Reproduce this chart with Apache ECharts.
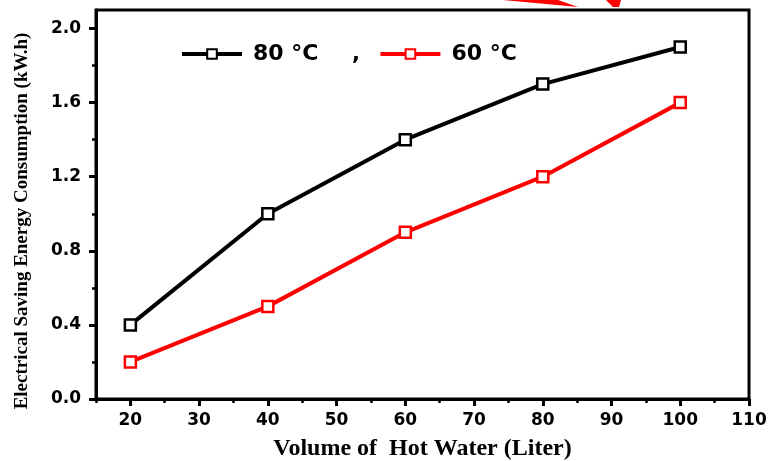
<!DOCTYPE html>
<html>
<head>
<meta charset="utf-8">
<script src="https://cdn.jsdelivr.net/npm/echarts@6/dist/echarts.min.js"></script>
<style>html,body{margin:0;padding:0;background:#fff;}#c{width:769px;height:461px;}</style>
</head>
<body>
<div id="c"></div>
<script>
const volumes = [20, 40, 60, 80, 100];
const series80 = [0.4, 1.0, 1.4, 1.7, 1.9];
const series60 = [0.2, 0.5, 0.9, 1.2, 1.6];
const xMajorTicks = [20, 30, 40, 50, 60, 70, 80, 90, 100, 110];
const xMinorTicks = [15, 25, 35, 45, 55, 65, 75, 85, 95, 105];
const yMajorTicks = [0, 0.4, 0.8, 1.2, 1.6, 2.0];
const yMinorTicks = [0.2, 0.6, 1.0, 1.4, 1.8];
const seriesNames = ['80 \u00B0C', '60 \u00B0C'];
const xTitle = 'Volume of  Hot Water (Liter)';
const yTitle = 'Electrical Saving Energy Consumption (kW.h)';

const chart = echarts.init(document.getElementById('c'));
const labelFont = {fontFamily: 'DejaVu Sans', fontWeight: 'bold', fontSize: 17, color: '#000'};
const lineStyleAxis = {color: '#000', width: 3};
function pts(ys) { return volumes.map((v, i) => [v, ys[i]]); }

chart.setOption({
  animation: false,
  backgroundColor: '#fff',
  grid: {left: 96, right: 20, top: 10, bottom: 62, containLabel: false, outerBoundsMode: 'none',
         show: true, borderColor: '#000', borderWidth: 3, backgroundColor: 'transparent'},
  legend: {
    left: 175, top: 38,
    itemWidth: 60, itemHeight: 12, itemGap: 60,
    lineStyle: {width: 4},
    textStyle: {fontFamily: 'DejaVu Sans', fontWeight: 'bold', fontSize: 22, color: '#000', padding: [0, 0, 0, 6]},
    data: seriesNames
  },
  graphic: [
    {type: 'text', left: 352, top: 44, style: {text: ',', fontFamily: 'DejaVu Sans', fontWeight: 'bold', fontSize: 21, fill: '#000'}},
    {type: 'text', x: 22, y: 221, rotation: Math.PI / 2,
     style: {text: yTitle, fontFamily: 'Liberation Serif', fontWeight: 'bold', fontSize: 19, fill: '#000', align: 'center', verticalAlign: 'middle'}},
    {type: 'polygon', shape: {points: [[503,0],[558,0],[578,7]]}, style: {fill: '#ff0000'}},
    {type: 'polygon', shape: {points: [[606,0],[621,0],[619,7],[613,7]]}, style: {fill: '#ff0000'}}
  ],
  xAxis: [
    {
      type: 'value', min: 15, max: 110, position: 'bottom',
      name: xTitle, nameLocation: 'middle', nameGap: 38,
      nameTextStyle: {fontFamily: 'Liberation Serif', fontWeight: 'bold', fontSize: 24, color: '#000'},
      axisLine: {show: true, lineStyle: lineStyleAxis},
      axisTick: {show: true, inside: false, length: 7, lineStyle: {color: '#000', width: 3}, customValues: xMajorTicks},
      axisLabel: Object.assign({margin: 13, customValues: xMajorTicks}, labelFont),
      splitLine: {show: false}
    },
    {
      type: 'value', min: 15, max: 110, position: 'bottom',
      axisLine: {show: false},
      axisTick: {show: true, inside: false, length: 4, lineStyle: {color: '#000', width: 2.5}, customValues: xMinorTicks},
      axisLabel: {show: false},
      splitLine: {show: false}
    }
  ],
  yAxis: [
    {
      type: 'value', min: 0, max: 2.1, position: 'left',
      axisLine: {show: true, lineStyle: lineStyleAxis},
      axisTick: {show: true, inside: false, length: 7, lineStyle: {color: '#000', width: 3}, customValues: yMajorTicks},
      axisLabel: Object.assign({margin: 15, customValues: yMajorTicks, formatter: v => v.toFixed(1)}, labelFont),
      splitLine: {show: false}
    },
    {
      type: 'value', min: 0, max: 2.1, position: 'left',
      axisLine: {show: false},
      axisTick: {show: true, inside: false, length: 4, lineStyle: {color: '#000', width: 2.5}, customValues: yMinorTicks},
      axisLabel: {show: false},
      splitLine: {show: false}
    }
  ],
  series: [
    {
      name: seriesNames[0], type: 'line', data: pts(series80),
      lineStyle: {color: '#000', width: 4}, itemStyle: {color: '#fff', borderColor: '#000', borderWidth: 2.5},
      symbol: 'rect', symbolSize: 11, z: 3
    },
    {
      name: seriesNames[1], type: 'line', data: pts(series60),
      lineStyle: {color: '#ff0000', width: 4}, itemStyle: {color: '#fff', borderColor: '#ff0000', borderWidth: 2.5},
      symbol: 'rect', symbolSize: 11, z: 3
    }
  ]
});
</script>
</body>
</html>
